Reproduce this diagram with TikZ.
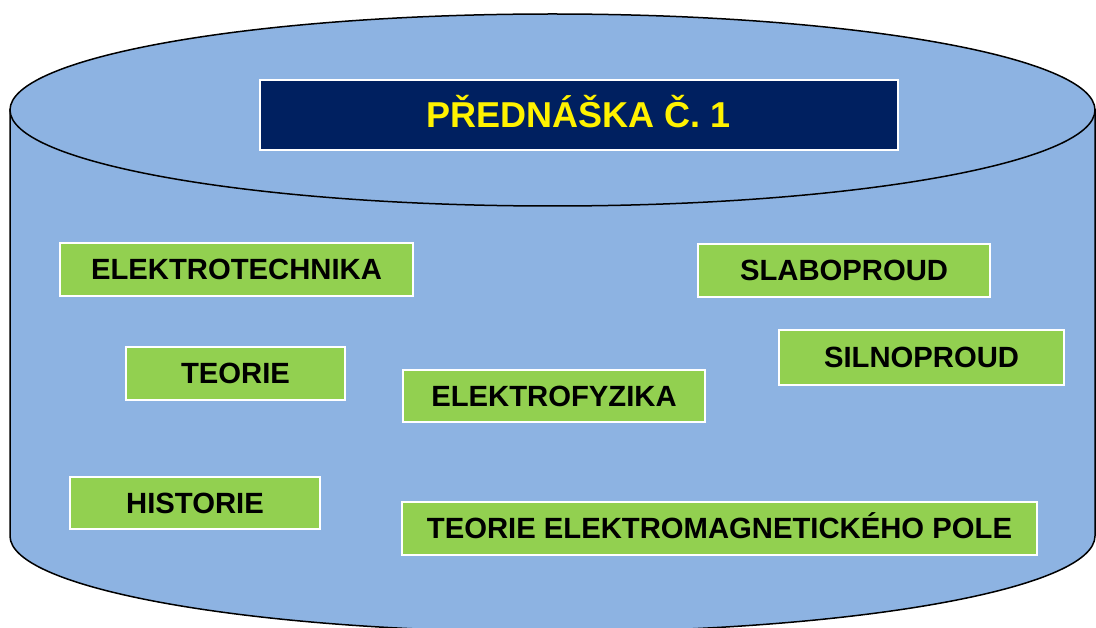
\documentclass[tikz,border=0pt]{standalone}
\usepackage{fontspec}
\setmainfont{Liberation Sans}
\usepackage{tikz}

\definecolor{cylblue}{RGB}{141,179,226}
\definecolor{topicgreen}{RGB}{146,208,80}
\definecolor{titlenavy}{RGB}{0,32,96}

\begin{document}
\begin{tikzpicture}[x=1pt,y=-1pt,
    topic/.style={draw=white, line width=1.5pt, fill=topicgreen, inner sep=0pt,
        minimum height=53pt, text height=20.9pt, text depth=0pt,
        font=\fontsize{29.25}{32}\selectfont\bfseries},
    lecture/.style={draw=white, line width=1.5pt, fill=titlenavy, text=yellow, inner sep=0pt,
        minimum width=638pt, minimum height=70pt, text height=25.8pt, text depth=0pt,
        font=\fontsize{36}{40}\selectfont\bfseries}]

    \useasboundingbox (0,0) rectangle (1096,628);
    \clip (0,0) rectangle (1096,628);

    % cylinder
    \filldraw[fill=cylblue, line width=1.5pt] (10,110) -- (10,536)
        arc[start angle=180, end angle=0, x radius=542.5, y radius=96] -- (1095,110) -- cycle;
    \filldraw[fill=cylblue, line width=1.5pt] (552.5,110) ellipse[x radius=542.5, y radius=96];

    \node[lecture] (title) at (579,115) {PŘEDNÁŠKA Č. 1};

    \node[topic, minimum width=353pt] (elektrotechnika) at (236.5,269.5) {ELEKTROTECHNIKA};
    \node[topic, minimum width=292pt] (slaboproud) at (844,270.5) {SLABOPROUD};
    \node[topic, minimum width=219pt] (teorie) at (235.5,373.5) {TEORIE};
    \node[topic, minimum width=285pt, minimum height=55pt] (silnoproud) at (921.5,357.5) {SILNOPROUD};
    \node[topic, minimum width=302pt, minimum height=52pt] (elektrofyzika) at (554,396) {ELEKTROFYZIKA};
    \node[topic, minimum width=250pt, minimum height=52pt] (historie) at (195,503) {HISTORIE};
    \node[topic, minimum width=635pt] (pole) at (719.5,528.5) {TEORIE ELEKTROMAGNETICKÉHO POLE};

\end{tikzpicture}
\end{document}
